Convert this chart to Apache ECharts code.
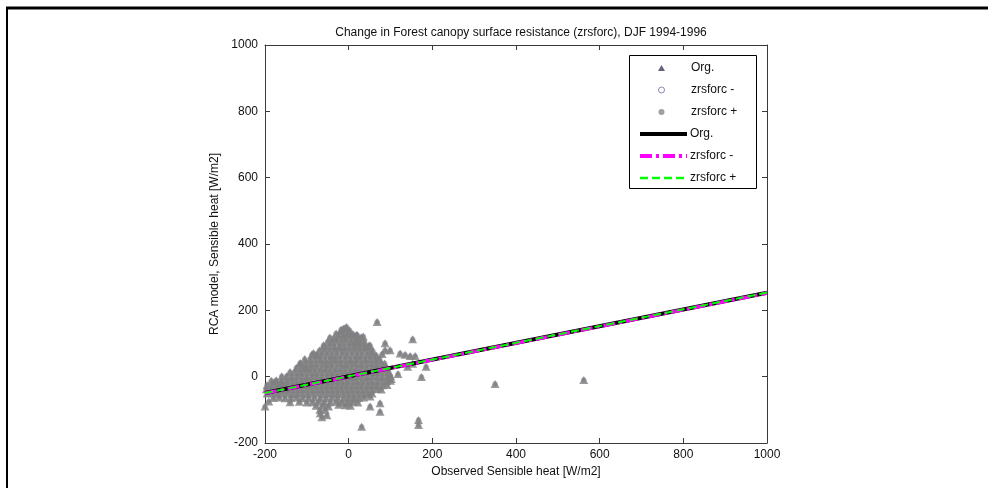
<!DOCTYPE html>
<html>
<head>
<meta charset="utf-8">
<script src="https://cdn.jsdelivr.net/npm/echarts@6/dist/echarts.min.js"></script>
<style>html,body{margin:0;padding:0;background:#fff}#c{width:988px;height:488px}</style>
</head>
<body>
<div id="c"></div>
<script>
// ---- data ----
var titleText = 'Change in Forest canopy surface resistance (zrsforc), DJF 1994-1996';
var xName = 'Observed Sensible heat [W/m2]';
var yName = 'RCA model, Sensible heat [W/m2]';
var xTicks = [-200, 0, 200, 400, 600, 800, 1000];
var yTicks = [-200, 0, 200, 400, 600, 800, 1000];

// observed vs modelled points
var orgPoints = [
  [-18,142],[-8,146],[2,140],
  [-30,130],[-20,131],[-10,128],[0,132],[10,129],[20,126],
  [-45,118],[-35,116],[-24,119],[-13,117],[-2,120],[9,118],[20,116],[30,119],
  [-50,105],[-40,104],[-28,106],[-16,103],[-5,105],[6,104],[17,106],[28,103],[38,104],
  [-58,92],[-46,93],[-34,91],[-22,92],[-10,90],[2,93],[14,91],[26,92],[38,90],[48,93],
  [-70,79],[-58,80],[-46,78],[-34,79],[-22,81],[-10,78],[2,80],[14,79],[26,78],[38,80],[50,79],[58,77],
  [-88,66],[-76,65],[-64,67],[-52,66],[-40,64],[-28,66],[-16,67],[-4,65],[8,66],[20,64],[32,66],[44,65],[56,67],[66,64],
  [-105,53],[-92,52],[-80,54],[-68,53],[-56,51],[-44,53],[-32,54],[-20,52],[-8,53],[4,51],[16,53],[28,54],[40,52],[52,53],[64,51],[74,53],
  [-115,40],[-103,41],[-91,39],[-79,40],[-67,41],[-55,39],[-43,40],[-31,42],[-19,40],[-7,39],[5,41],[17,40],[29,39],[41,41],[53,40],[65,39],[77,41],[86,40],
  [-125,27],[-113,28],[-101,26],[-89,27],[-77,28],[-65,26],[-53,27],[-41,28],[-29,26],[-17,27],[-5,28],[7,26],[19,27],[31,28],[43,26],[55,27],[67,28],[79,26],[90,27],
  [-140,14],[-128,15],[-116,13],[-104,14],[-92,15],[-80,13],[-68,14],[-56,15],[-44,13],[-32,14],[-20,15],[-8,13],[4,14],[16,15],[28,13],[40,14],[52,15],[64,13],[76,14],[88,15],[96,13],
  [-160,1],[-148,2],[-136,0],[-124,1],[-112,2],[-100,0],[-88,1],[-76,2],[-64,0],[-52,1],[-40,2],[-28,0],[-16,1],[-4,2],[8,0],[20,1],[32,2],[44,0],[56,1],[68,2],[80,0],[92,1],[100,2],
  [-185,-12],[-173,-11],[-161,-13],[-149,-12],[-137,-11],[-125,-13],[-113,-12],[-101,-11],[-89,-13],[-77,-12],[-65,-11],[-53,-13],[-41,-12],[-29,-11],[-17,-13],[-5,-12],[7,-11],[19,-13],[31,-12],[43,-11],[55,-13],[67,-12],[79,-11],[91,-13],[100,-12],
  [-195,-25],[-183,-24],[-171,-26],[-159,-25],[-147,-24],[-135,-26],[-123,-25],[-111,-24],[-99,-26],[-87,-25],[-75,-24],[-63,-26],[-51,-25],[-39,-24],[-27,-26],[-15,-25],[-3,-24],[9,-26],[21,-25],[33,-24],[45,-26],[57,-25],[69,-24],[81,-26],[92,-25],
  [-197,-38],[-185,-37],[-173,-39],[-161,-38],[-149,-37],[-137,-39],[-125,-38],[-113,-37],[-101,-39],[-89,-38],[-77,-37],[-65,-39],[-53,-38],[-41,-37],[-29,-39],[-17,-38],[-5,-37],[7,-39],[19,-38],[31,-37],[43,-39],[55,-38],[67,-37],[78,-39],
  [-195,-51],[-183,-50],[-171,-52],[-159,-51],[-147,-50],[-135,-52],[-123,-51],[-111,-50],[-99,-52],[-87,-51],[-75,-50],[-63,-52],[-51,-51],[-39,-50],[-27,-52],[-15,-51],[-3,-50],[9,-52],[21,-51],[33,-50],[45,-52],[56,-51],
  [-180,-64],[-166,-63],[-152,-65],[-138,-64],[-124,-63],[-110,-65],[-96,-64],[-82,-63],[-68,-65],[-54,-64],[-40,-63],[-26,-65],[-12,-64],[0,-63],[12,-65],[24,-64],[36,-63],
  [-140,-77],[-118,-76],[-100,-78],[-86,-77],[-72,-76],[-58,-78],[-44,-77],[-30,-76],[-16,-78],[-2,-77],[10,-76],[22,-78],
  [-78,-88],[-62,-87],[-8,-86],[4,-88],
  [-200,-90],[-191,-75],[-176,-15],[-160,-20],[-116,41],[-104,26],[-84,71],[-60,95],[-76,66],
  [-69,-100],[-64,-122],[-24,-85],[-68,-110],[-56,-100],[-52,-116],[-48,-90],
  [51,-60],[51,-90],[75,-80],[75,-106],
  [-12,145],[-5,150],[19,126],[35,121],[19,100],[51,95],[87,101],[87,80],[80,68],[99,80],
  [123,70],[135,66],[147,62],[159,62],[153,39],[141,30],[118,8],[102,-7],
  [68,165],[153,113],[31,-151],[167,-131],[167,-146],[174,-1],[185,30],[350,-22],[562,-10]
];

// regression lines
var lineX = [-200, 1000];
var orgLineY = [-49, 253];
var minusLineY = [-50, 252];
var plusLineY = [-49.5, 253.5];

// ---- build ----
function pairs(xs, ys){ return xs.map(function(x,i){ return [x, ys[i]]; }); }

var chart = echarts.init(document.getElementById('c'), null, {renderer:'canvas'});
var font = 'Liberation Sans';
var axisColor = '#3a3a3a';
var plain = function(v){ return String(v); };

function axisBase(pos, showLabel){
  return {
    type:'value', min:-200, max:1000, interval:200, position:pos,
    axisLine:{show:true, onZero:false, lineStyle:{color:axisColor, width:1}},
    axisTick:{show:true, inside:true, length:5, lineStyle:{color:axisColor}},
    axisLabel:{show:showLabel, fontFamily:font, fontSize:12, color:'#111', formatter:plain},
    splitLine:{show:false}
  };
}
var xb = axisBase('bottom', true);
xb.name = xName; xb.nameLocation = 'middle'; xb.nameGap = 23;
xb.nameTextStyle = {fontFamily:font, fontSize:12, color:'#111'};
xb.axisLabel.margin = 6; xb.axisLabel.customValues = xTicks;
var yl = axisBase('left', true);
yl.name = yName; yl.nameLocation = 'middle'; yl.nameGap = 42;
yl.nameTextStyle = {fontFamily:font, fontSize:12, color:'#111'};
yl.axisLabel.margin = 7; yl.axisLabel.customValues = yTicks;

var option = {
  backgroundColor:'#fff',
  animation:false,
  title:{
    text:titleText, left:516, top:22, textAlign:'center',
    textStyle:{fontFamily:font, fontSize:12, fontWeight:'normal', color:'#111'}
  },
  grid:{left:265, top:45, width:502, height:398},
  xAxis:[xb, axisBase('top', false)],
  yAxis:[yl, axisBase('right', false)],
  legend:[{
    orient:'vertical', left:649, top:61, padding:[0,0,0,9],
    itemWidth:7, itemHeight:6, itemGap:8,
    textStyle:{fontFamily:font, fontSize:12, color:'#111', lineHeight:14, padding:[0,0,0,21]},
    data:[
      {name:'Org.', icon:'triangle', itemStyle:{color:'#3d3d5c', borderWidth:0}},
      {name:'zrsforc -', icon:'circle', itemStyle:{color:'#fff', borderColor:'#6a6aa8', borderWidth:1}},
      {name:'zrsforc +', icon:'circle', itemStyle:{color:'#888', borderWidth:0}}
    ],
    selectedMode:false
  },{
    orient:'vertical', left:629, top:127, padding:[0,0,0,9],
    itemWidth:47, itemHeight:14, itemGap:8,
    itemStyle:{opacity:0},
    textStyle:{fontFamily:font, fontSize:12, color:'#111', lineHeight:14, padding:[0,0,0,-2]},
    data:[
      {name:'Org. ', lineStyle:{color:'#000', width:4, type:'solid'}},
      {name:'zrsforc - ', lineStyle:{color:'#ff00ff', width:4, type:[12,4,3,4]}},
      {name:'zrsforc + ', lineStyle:{color:'#00ff00', width:2.5, type:[8,4]}}
    ],
    selectedMode:false
  }],
  graphic:[
    {type:'line', shape:{x1:6, y1:8, x2:988, y2:8}, style:{stroke:'#000', lineWidth:3}, silent:true},
    {type:'line', shape:{x1:7, y1:7, x2:7, y2:488}, style:{stroke:'#000', lineWidth:2}, silent:true},
    {type:'rect', shape:{x:629.5, y:55.5, width:127, height:133}, style:{fill:'#fff', stroke:'#000', lineWidth:1}, z:-1, silent:true}
  ],
  series:[
    {name:'zrsforc -', type:'scatter', data:orgPoints, symbol:'circle', symbolSize:5,
      itemStyle:{color:'rgba(0,0,0,0)', borderColor:'#7a7aa8', borderWidth:0.6}, z:2, silent:true},
    {name:'zrsforc +', type:'scatter', data:orgPoints, symbol:'circle', symbolSize:4,
      itemStyle:{color:'#808080'}, z:2, silent:true},
    {name:'Org.', type:'scatter', data:orgPoints, symbol:'triangle', symbolSize:[9,8],
      itemStyle:{color:'#808080', borderWidth:0}, z:3, silent:true},
    {name:'Org. ', type:'line', data:pairs(lineX, orgLineY), showSymbol:false, symbol:'none',
      itemStyle:{color:'#000'}, lineStyle:{color:'#000', width:4}, z:4, silent:true},
    {name:'zrsforc - ', type:'line', data:pairs(lineX, minusLineY), showSymbol:false, symbol:'none',
      itemStyle:{color:'#ff00ff'}, lineStyle:{color:'#ff00ff', width:3.5, type:[12,4,3,4]}, z:5, silent:true},
    {name:'zrsforc + ', type:'line', data:pairs(lineX, plusLineY), showSymbol:false, symbol:'none',
      itemStyle:{color:'#00ff00'}, lineStyle:{color:'#00ff00', width:2, type:[8,4]}, z:6, silent:true}
  ]
};
chart.setOption(option);
</script>
</body>
</html>
